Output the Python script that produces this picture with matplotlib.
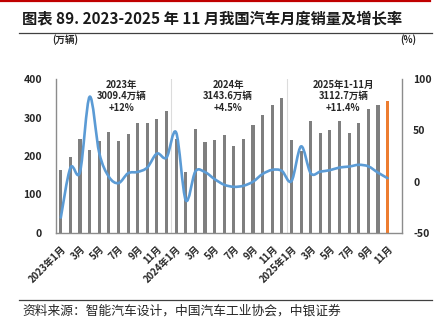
import matplotlib
matplotlib.use("Agg")
import matplotlib.pyplot as plt
from matplotlib.path import Path
from matplotlib.patches import PathPatch
from matplotlib.lines import Line2D
import numpy as np

plt.rcParams['font.family'] = ['Noto Sans CJK SC', 'DejaVu Sans']

# ---- data ----
months = ["2023年1月", "2月", "3月", "4月", "5月", "6月", "7月", "8月", "9月", "10月", "11月", "12月",
          "2024年1月", "2月", "3月", "4月", "5月", "6月", "7月", "8月", "9月", "10月", "11月", "12月",
          "2025年1月", "2月", "3月", "4月", "5月", "6月", "7月", "8月", "9月", "10月", "11月"]
sales_2023 = [164.9, 197.6, 245.1, 215.9, 238.2, 262.2, 238.7, 258.2, 285.8, 285.3, 297.0, 315.6]
sales_2024 = [243.9, 158.4, 269.4, 235.9, 241.7, 255.3, 226.2, 245.3, 280.9, 305.3, 331.6, 351.6]
sales_2025 = [242.3, 212.9, 291.5, 259.0, 268.6, 290.4, 259.3, 285.7, 322.7, 332.2, 342.9]
growth_2023 = [-35.0, 13.5, 9.7, 82.7, 27.9, 4.8, -1.4, 8.2, 9.5, 13.8, 27.4, 23.5]
growth_2024 = [47.9, -18.0, 9.9, 9.3, 2.5, -3.0, -5.0, -4.0, 0.0, 7.5, 11.5, 10.5]
growth_2025 = [0.5, 34.4, 8.2, 9.8, 11.2, 13.8, 14.7, 16.4, 14.9, 8.8, 3.4]
left_ticks = [0, 100, 200, 300, 400]
right_ticks = [-50, 0, 50, 100]
notes = ["2023年\n3009.4万辆\n+12%", "2024年\n3143.6万辆\n+4.5%", "2025年1-11月\n3112.7万辆\n+11.4%"]

sales = sales_2023 + sales_2024 + sales_2025
growth = growth_2023 + growth_2024 + growth_2025
n = len(sales)
x = np.arange(n)

W, H = 448, 328
fig = plt.figure(figsize=(W / 100, H / 100), dpi=100)

def fx(px):
    return px / W

def fy(py):
    return 1 - py / H

ax = fig.add_axes([fx(56), fy(233), (402 - 56) / W, (233 - 79) / H])
ax.set_xlim(-0.5, n + 0.5)
ax.set_ylim(0, 400)

colors = ['#7f7f7f'] * (n - 1) + ['#ed7d31']
ax.bar(x, sales, width=0.32, color=colors, zorder=2)

for sep in [11.5, 23.5]:
    ax.axvline(sep, color='#dcdcdc', lw=0.8, zorder=1)

ax2 = ax.twinx()
ax2.set_ylim(-50, 100)
ax2.set_xlim(-0.5, n + 0.5)

# smoothed line (Excel-like Bezier through points)
pts = np.column_stack([x, growth]).astype(float)
verts = [tuple(pts[0])]
codes = [Path.MOVETO]
for i in range(n - 1):
    p0 = pts[i - 1] if i > 0 else pts[i]
    p1 = pts[i]
    p2 = pts[i + 1]
    p3 = pts[i + 2] if i + 2 < n else pts[i + 1]
    c1 = p1 + (p2 - p0) / 6.0
    c2 = p2 - (p3 - p1) / 6.0
    verts += [tuple(c1), tuple(c2), tuple(p2)]
    codes += [Path.CURVE4] * 3
ax2.add_patch(PathPatch(Path(verts, codes), facecolor='none', edgecolor='#5b9bd5', lw=1.9,
                        capstyle='round', joinstyle='round', zorder=3))

for a in (ax, ax2):
    for s in a.spines.values():
        s.set_visible(False)
for a, side in ((ax, 'left'), (ax, 'bottom'), (ax2, 'right')):
    a.spines[side].set_visible(True)
    a.spines[side].set_color('#8c8c8c')
    a.spines[side].set_linewidth(1.0)

ax.set_yticks(left_ticks)
ax.set_yticklabels([str(v) for v in left_ticks])
ax2.set_yticks(right_ticks)
ax2.set_yticklabels([str(v) for v in right_ticks])
ax.tick_params(axis='y', length=0, pad=10, labelsize=7.5, labelcolor='#262626')
ax2.tick_params(axis='y', length=0, pad=8, labelsize=7.5, labelcolor='#262626')
for lab in ax.get_yticklabels() + ax2.get_yticklabels():
    lab.set_fontweight('bold')

ax.set_xticks(x[::2])
ax.set_xticklabels(months[::2], rotation=45, ha='right', rotation_mode='anchor',
                   fontsize=6.9, fontweight='bold', color='#262626')
ax.tick_params(axis='x', length=0, pad=8)

note_x = [6.3, 17.4, 29.4]
for nx, t in zip(note_x, notes):
    ax.text(nx, 398, t, ha='center', va='top', fontsize=6.8, fontweight='bold',
            color='#262626', linespacing=1.2, zorder=4)

fig.text(fx(65), fy(40), "(万辆)", ha='center', va='center', fontsize=6.8,
         fontweight='bold', color='#262626')
fig.text(fx(408), fy(40), "(%)", ha='center', va='center', fontsize=6.8,
         fontweight='bold', color='#262626')

# title and decorations
fig.add_artist(Line2D([0, fx(430)], [fy(0.8), fy(0.8)], color='#c00000', lw=1.6))
fig.text(fx(22), fy(18), "图表 89. 2023-2025 年 11 月我国汽车月度销量及增长率",
         ha='left', va='center', fontsize=11.0, fontweight='bold', color='#1a1a1a')
fig.add_artist(Line2D([fx(19), fx(432)], [fy(32.5), fy(32.5)], color='#404040', lw=0.9))
fig.add_artist(Line2D([fx(19), fx(432)], [fy(300), fy(300)], color='#404040', lw=0.9))
fig.text(fx(22), fy(311), "资料来源：智能汽车设计，中国汽车工业协会，中银证券",
         ha='left', va='center', fontsize=9.2, color='#262626', style='italic')

fig.savefig("out.png", dpi=100)
